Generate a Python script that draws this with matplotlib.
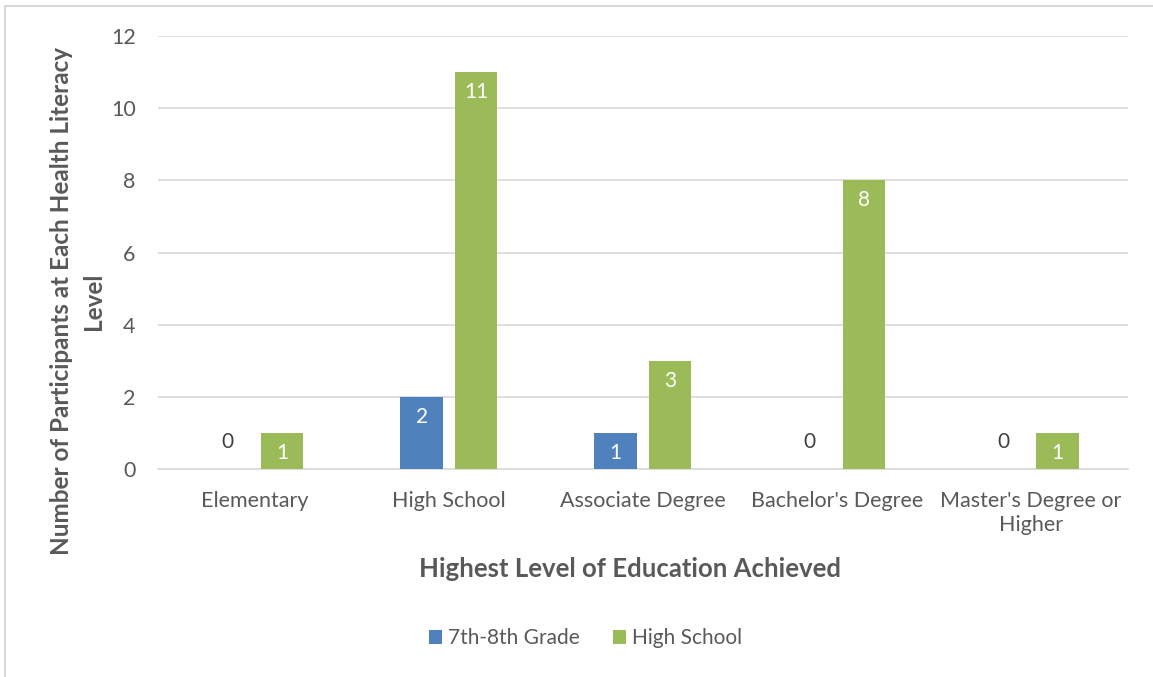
import numpy as np
import matplotlib.pyplot as plt
from matplotlib.lines import Line2D

plt.rcParams['font.family'] = ['Lato', 'DejaVu Sans']

education = ['Elementary', 'High School', 'Associate Degree', "Bachelor's Degree",
             "Master's Degree or\nHigher"]
grade_7_8 = [0, 2, 1, 0, 0]
high_school = [1, 11, 3, 8, 1]
series_names = ['7th-8th Grade', 'High School']

blue = '#4f81bd'
green = '#9bbb59'
text_gray = '#595959'
grid_gray = '#d9d9d9'

fig = plt.figure(figsize=(11.53, 6.77), dpi=100)
ax = fig.add_axes([0.137, 0.307, 0.841, 0.640])

x = np.arange(len(education))
width = 0.22
offset = 0.14

bars_a = ax.bar(x - offset, grade_7_8, width, color=blue, label=series_names[0], zorder=3)
bars_b = ax.bar(x + offset, high_school, width, color=green, label=series_names[1], zorder=3)

# value labels: white inside the bar top, gray above the axis for zeros
for bars in (bars_a, bars_b):
    for b in bars:
        h = b.get_height()
        cx = b.get_x() + b.get_width() / 2
        if h > 0:
            ax.annotate(f'{h:g}', (cx, h), xytext=(0, -7), textcoords='offset points',
                        ha='center', va='top', color='white', fontsize=15)
        else:
            ax.annotate(f'{h:g}', (cx, 0), xytext=(0, 12), textcoords='offset points',
                        ha='center', va='bottom', color='#404040', fontsize=15)

ax.set_xlim(-0.5, len(education) - 0.5)
ax.set_ylim(0, 12)
ax.set_yticks(range(0, 13, 2))
ax.set_xticks(x)
ax.set_xticklabels(education, linespacing=1.25)
ax.yaxis.grid(True, color=grid_gray, linewidth=1.2, zorder=0)
ax.set_axisbelow(True)
for side in ('top', 'right', 'left'):
    ax.spines[side].set_visible(False)
ax.spines['bottom'].set_color(grid_gray)
ax.spines['bottom'].set_linewidth(1.2)
ax.tick_params(axis='both', length=0, colors=text_gray, labelsize=15.5)
ax.tick_params(axis='x', pad=16)
ax.tick_params(axis='y', pad=16)

ax.set_xlabel('Highest Level of Education Achieved', fontsize=18.5, fontweight='bold',
              color=text_gray)
ax.xaxis.set_label_coords(0.487, -0.203)
ax.set_ylabel('Number of Participants at Each Health Literacy\nLevel', fontsize=17.5,
              fontweight='bold', color=text_gray, linespacing=1.45)
ax.yaxis.set_label_coords(-0.055, 0.388)

fig.legend(loc='center', bbox_to_anchor=(0.508, 0.057), ncol=2, frameon=False,
           fontsize=15, labelcolor=text_gray, handlelength=0.6, handleheight=0.6,
           handletextpad=0.3, columnspacing=1.6)

# chart frame
fig.add_artist(Line2D([5 / 1153, 5 / 1153], [0, 1 - 6 / 677], transform=fig.transFigure,
                      color=grid_gray, linewidth=1.5))
fig.add_artist(Line2D([5 / 1153, 1], [1 - 6 / 677, 1 - 6 / 677], transform=fig.transFigure,
                      color=grid_gray, linewidth=1.5))

fig.savefig('out.png', dpi=100, facecolor='white')
